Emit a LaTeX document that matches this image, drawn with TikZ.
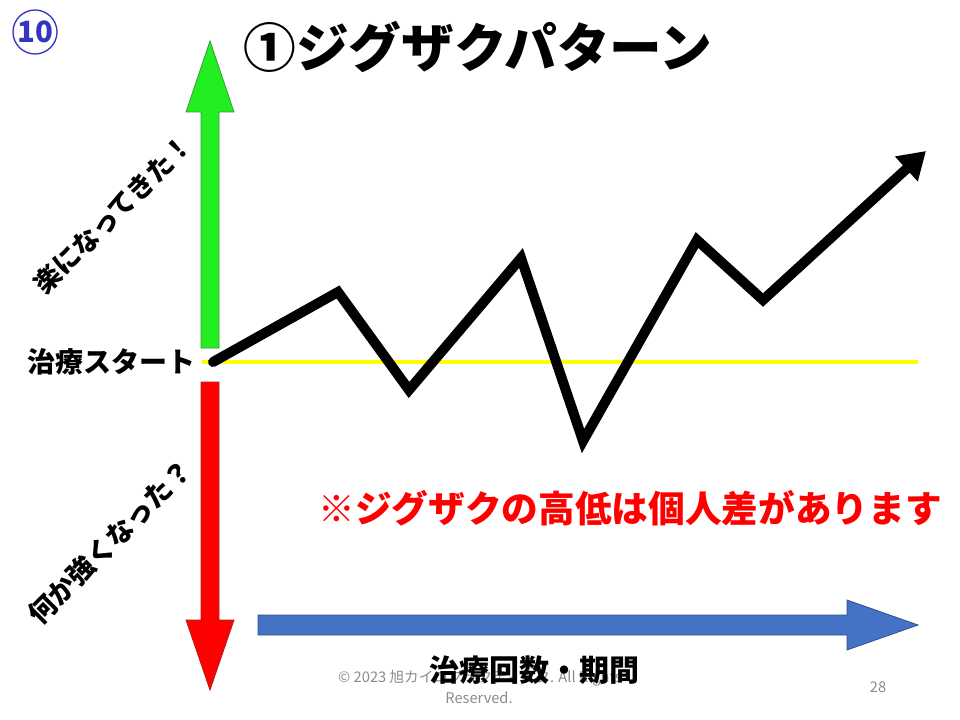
\documentclass[tikz,border=0pt]{standalone}
\usepackage{fontspec}
\setmainfont{Noto Sans CJK JP}
\newfontfamily\jp{Noto Sans CJK JP}
\usetikzlibrary{arrows.meta}
\definecolor{upgreen}{HTML}{22EE22}
\definecolor{upgreenedge}{HTML}{3A9A3A}
\definecolor{downred}{HTML}{FF0000}
\definecolor{downrededge}{HTML}{B02020}
\definecolor{axisblue}{HTML}{4472C4}
\definecolor{axisblueedge}{HTML}{2F528F}
\definecolor{numblue}{HTML}{3535C0}
\definecolor{markyellow}{HTML}{FFFF00}
\definecolor{notegray}{HTML}{8C8C8C}
\tikzset{
  lbl/.style={font=\jp\bfseries, inner sep=0pt, text=black},
  blockarrow/.style={line width=0.6pt, line join=miter},
  zig/.style={line width=7.5pt, line cap=round, line join=miter, -{Triangle[length=20pt,width=24pt]}},
  smallgray/.style={font=\jp\fontsize{11}{13}\selectfont, text=notegray, inner sep=0pt}
}
\begin{document}
\begin{tikzpicture}[x=0.75pt,y=-0.75pt]
\useasboundingbox (0,0) rectangle (960,720);
\fill[white] (0,0) rectangle (960,720);

% circled number
\node[circle, draw=numblue, line width=1pt, minimum size=33pt, inner sep=0pt,
      font=\jp\bfseries\fontsize{22}{22}\selectfont, text=numblue] (num) at (35,32) {10};

% title
\node[lbl, font=\jp\bfseries\fontsize{39.5}{40}\selectfont] (title) at (478,47) {①ジグザクパターン};

% green up arrow
\draw[blockarrow, fill=upgreen, draw=upgreenedge]
  (201,348) -- (201,112) -- (186,112) -- (210,41) -- (234,112) -- (219,112) -- (219,348) -- cycle;
% red down arrow
\draw[blockarrow, fill=downred, draw=downrededge]
  (201,382) -- (201,620) -- (186,620) -- (210,690) -- (234,620) -- (219,620) -- (219,382) -- cycle;
% blue right arrow
\draw[blockarrow, fill=axisblue, draw=axisblueedge]
  (258,615) -- (847,615) -- (847,600) -- (918,625) -- (847,650) -- (847,635) -- (258,635) -- cycle;

% yellow baseline
\coordinate (ystart) at (202,362);
\coordinate (yend) at (918,362);
\draw[markyellow, line width=3.5pt] (ystart) -- (yend);

% zigzag
\coordinate (z0) at (213,362);
\coordinate (z1) at (338,292);
\coordinate (z2) at (409,390);
\coordinate (z3) at (521,258);
\coordinate (z4) at (583,441);
\coordinate (z5) at (697,240);
\coordinate (z6) at (763,300);
\coordinate (z7) at (926,151);
\draw[zig] (z0) -- (z1) -- (z2) -- (z3) -- (z4) -- (z5) -- (z6) -- (z7);

% labels
\node[lbl, font=\jp\bfseries\fontsize{21}{21}\selectfont, anchor=east] (start) at (196,362) {治療スタート};
\node[lbl, font=\jp\bfseries\fontsize{20}{20}\selectfont, rotate=45] (better) at (113,214) {楽になってきた！};
\node[lbl, font=\jp\bfseries\fontsize{20.5}{20}\selectfont, rotate=45] (worse) at (110,542) {何か強くなった？};
\node[lbl, font=\jp\bfseries\fontsize{27.5}{28}\selectfont, text=downred] (note) at (630,508) {※ジグザクの高低は個人差があります};

% footer
\node[smallgray] (copy1) at (480,678) {© 2023 旭カイロプラクティック. All Rights};
\node[smallgray] (copy2) at (479,698) {Reserved.};
\node[smallgray] (page) at (878,687) {28};
\node[lbl, font=\jp\bfseries\fontsize{22.5}{23}\selectfont] (xaxis) at (534,670) {治療回数・期間};
\end{tikzpicture}
\end{document}
